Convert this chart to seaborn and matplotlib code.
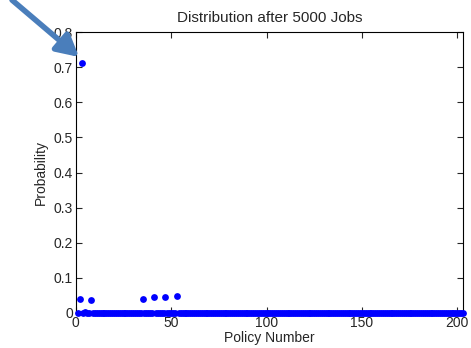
import numpy as np
import pandas as pd
import seaborn as sns
import matplotlib.pyplot as plt

# policy numbers 1..203 and the probability of each after 5000 jobs
policies = list(range(1, 204))
peak_policies = [2, 3, 8, 35, 41, 47, 53]
peak_probs = [0.041, 0.713, 0.036, 0.041, 0.046, 0.046, 0.049]
small_policies = [5, 30, 66, 74, 80, 112, 160, 176]
small_probs = [0.002, 0.001, 0.001, 0.001, 0.001, 0.001, 0.001, 0.001]

probs = np.zeros(len(policies))
for p, v in zip(small_policies, small_probs):
    probs[p - 1] = v
for p, v in zip(peak_policies, peak_probs):
    probs[p - 1] = v

df = pd.DataFrame({"Policy Number": policies, "Probability": probs})

sns.set_style("ticks")
plt.rcParams['font.family'] = ['Liberation Sans', 'DejaVu Sans']

fig = plt.figure(figsize=(4.71, 3.48), dpi=100)
ax = fig.add_axes([0.161, 0.1006, 0.822, 0.8074])

sns.scatterplot(data=df, x="Policy Number", y="Probability", color="#0000ff",
                s=24, linewidth=0, ax=ax, zorder=3, clip_on=False)

ax.set_xlim(0, 203)
ax.set_ylim(0, 0.8)
ax.set_xticks([0, 50, 100, 150, 200])
ax.set_yticks([0, 0.1, 0.2, 0.3, 0.4, 0.5, 0.6, 0.7, 0.8])
ax.set_yticklabels(["0", "0.1", "0.2", "0.3", "0.4", "0.5", "0.6", "0.7", "0.8"])
ax.tick_params(direction="in", top=True, right=True, length=4, width=0.8,
               labelsize=10, labelcolor="#262626", pad=2)
for s in ax.spines.values():
    s.set_visible(True)
    s.set_linewidth(0.8)
    s.set_color("black")

ax.set_xlabel("Policy Number", fontsize=10, labelpad=1, color="#262626")
ax.set_ylabel("Probability", fontsize=10, labelpad=4, color="#262626")
ax.set_title("Distribution after 5000 Jobs", fontsize=11, pad=7)

# arrow pointing to the dominant policy
ax.annotate("", xy=(79 / 471, 1 - 57 / 348), xycoords="figure fraction",
            xytext=(12 / 471, 1 - 0 / 348), textcoords="figure fraction",
            arrowprops=dict(arrowstyle="-|>,head_length=1.3,head_width=0.7",
                            color="#4a7ebb", lw=4, shrinkA=0, shrinkB=0),
            annotation_clip=False)

fig.savefig("out.png", dpi=100)
